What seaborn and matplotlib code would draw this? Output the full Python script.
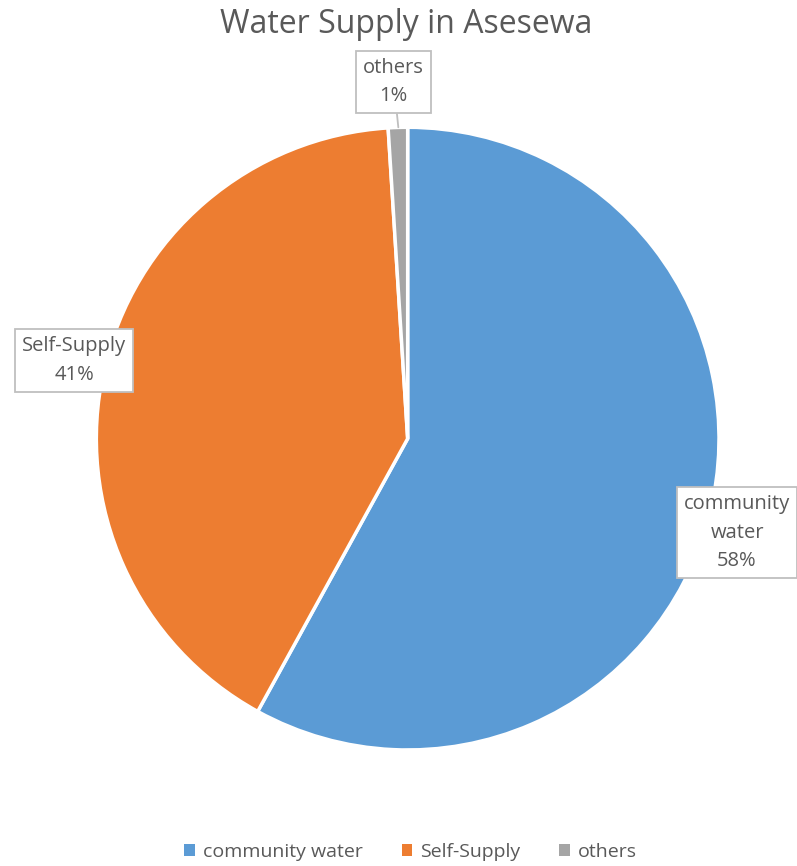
import matplotlib
matplotlib.use("Agg")
import matplotlib.pyplot as plt
import seaborn as sns
from matplotlib.patches import Patch

categories = ["community water", "Self-Supply", "others"]
values = [58, 41, 1]
label_names = ["community\nwater", "Self-Supply", "others"]
colors = ["#5B9BD5", "#ED7D31", "#A5A5A5"]

sns.set_theme(style="white")
plt.rcParams['font.family'] = ['Open Sans', 'DejaVu Sans']
palette = sns.color_palette(colors)

fig = plt.figure(figsize=(7.97, 8.66), dpi=100)
ax = fig.add_axes([0.1205, 0.134, 0.782, 0.719])
wedges, _ = ax.pie(values, colors=palette, startangle=90, counterclock=False,
                   wedgeprops=dict(edgecolor="white", linewidth=2.5), radius=1.0)
ax.set_xlim(-1, 1)
ax.set_ylim(-1, 1)
ax.set_aspect("equal")
ax.axis("off")

txtcol = "#595959"
total = sum(values)
label_pos = [(1.058, -0.302), (-1.071, 0.251), (-0.045, 1.145)]
box = dict(boxstyle="square,pad=0.35", facecolor="white", edgecolor="#BFBFBF", linewidth=1.3)
for name, v, (x, y) in zip(label_names, values, label_pos):
    pct = f"{round(v / total * 100)}%"
    if name == "others":
        ax.annotate(f"{name}\n{pct}", xy=(-0.03, 1.0), xytext=(x, y),
                    ha="center", va="center", fontsize=14.5, color=txtcol,
                    bbox=box, annotation_clip=False, linespacing=1.55,
                    arrowprops=dict(arrowstyle="-", color="#BFBFBF", lw=1.3,
                                    shrinkA=0, shrinkB=0))
    else:
        ax.text(x, y, f"{name}\n{pct}", ha="center", va="center", fontsize=14.5,
                color=txtcol, bbox=box, clip_on=False, linespacing=1.55)

fig.text(0.51, 0.972, "Water Supply in Asesewa", ha="center", va="center",
         fontsize=23, color=txtcol)

handles = [Patch(facecolor=c, edgecolor="none", label=l) for c, l in zip(palette, categories)]
leg = fig.legend(handles=handles, loc="center", bbox_to_anchor=(0.515, 0.016), ncol=3,
                 frameon=False, fontsize=14, handlelength=0.55, handleheight=0.55,
                 handletextpad=0.4, columnspacing=2.0)
for t in leg.get_texts():
    t.set_color(txtcol)

fig.savefig("out.png", dpi=100, facecolor="white")
